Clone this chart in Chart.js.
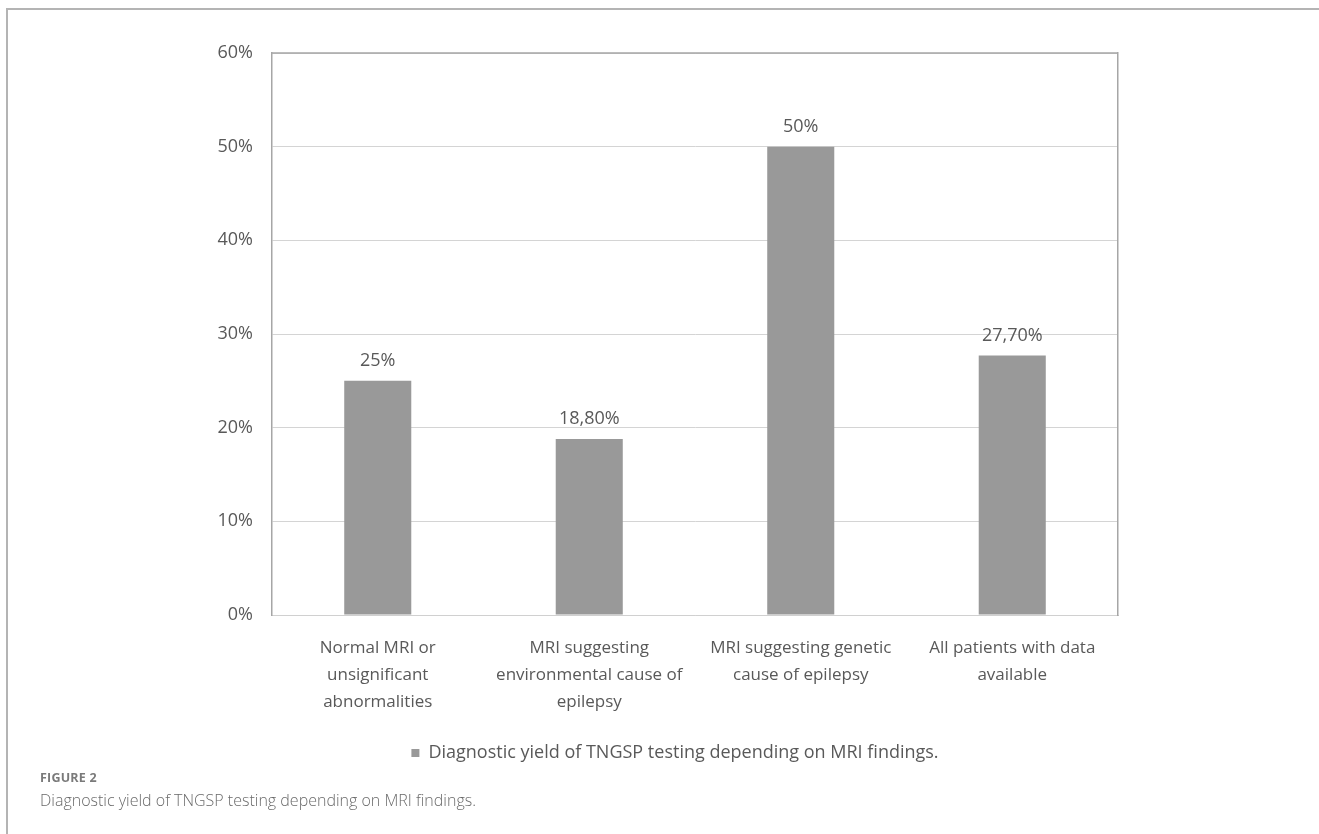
<!DOCTYPE html>
<html>
<head>
<meta charset="utf-8">
<script src="https://cdn.jsdelivr.net/npm/chart.js@4.4.1/dist/chart.umd.min.js"></script>
<style>
  html, body { margin: 0; padding: 0; background: #fff; }
  body { width: 1319px; height: 834px; position: relative; overflow: hidden; font-family: "Open Sans", sans-serif; }
  #frame { position: absolute; left: 6px; top: 8px; width: 1320px; height: 840px; border-left: 2px solid #b4b4b4; border-top: 2px solid #b4b4b4; box-sizing: border-box; }
  #wrap { position: absolute; left: 0; top: 0; width: 1319px; height: 776px; }
  #fig { position: absolute; left: 40px; top: 769px; font-size: 12.5px; font-weight: 700; color: #7a7a7a; letter-spacing: 0.2px; z-index: 2; }
  #cap { position: absolute; left: 40px; top: 789px; font-size: 16px; font-weight: 300; color: #6a6a6a; z-index: 2; }
</style>
</head>
<body>
<div id="frame"></div>
<div id="wrap"><canvas id="c" width="1319" height="776"></canvas></div>
<div id="fig">FIGURE 2</div>
<div id="cap">Diagnostic yield of TNGSP testing depending on MRI findings.</div>
<script>
// MRI finding groups (multi-line axis labels)
const categories = [
  ["Normal MRI or", "unsignificant", "abnormalities"],
  ["MRI suggesting", "environmental cause of", "epilepsy"],
  ["MRI suggesting genetic", "cause of epilepsy"],
  ["All patients with data", "available"]
];
// Diagnostic yield in percent
const yieldValues = [25, 18.8, 50, 27.7];
const seriesName = "Diagnostic yield of TNGSP testing depending on MRI findings.";
const yTicks = [0, 10, 20, 30, 40, 50, 60];

const fontFamily = '"Open Sans", sans-serif';
const textColor = '#595959';

function fmtPct(v) {
  return Number.isInteger(v) ? v + '%' : v.toFixed(2).replace('.', ',') + '%';
}

// Value labels above each bar
const valueLabels = {
  id: 'valueLabels',
  afterDatasetsDraw(chart) {
    const ctx = chart.ctx;
    const meta = chart.getDatasetMeta(0);
    ctx.save();
    ctx.font = '18px ' + fontFamily;
    ctx.fillStyle = textColor;
    ctx.textAlign = 'center';
    ctx.textBaseline = 'middle';
    meta.data.forEach((bar, i) => {
      ctx.fillText(fmtPct(chart.data.datasets[0].data[i]), bar.x, bar.y - 20);
    });
    ctx.restore();
  }
};

// Top edge of the plot frame
const plotTop = {
  id: 'plotTop',
  afterDraw(chart) {
    const a = chart.chartArea;
    const ctx = chart.ctx;
    ctx.save();
    ctx.strokeStyle = '#a6a6a6';
    ctx.lineWidth = 1.5;
    ctx.beginPath();
    ctx.moveTo(a.left, a.top);
    ctx.lineTo(a.right, a.top);
    ctx.stroke();
    ctx.restore();
  }
};

new Chart(document.getElementById('c'), {
  type: 'bar',
  data: {
    labels: categories,
    datasets: [{
      label: seriesName,
      data: yieldValues,
      backgroundColor: '#999999',
      borderWidth: 0,
      categoryPercentage: 1,
      barPercentage: 0.317
    }]
  },
  options: {
    responsive: false,
    animation: false,
    devicePixelRatio: 1,
    layout: { padding: { left: 190, right: 159, top: 53, bottom: 4 } },
    scales: {
      x: {
        grid: { display: false },
        border: { color: '#d0d0d0', width: 1 },
        ticks: {
          color: textColor,
          font: { family: fontFamily, size: 17, lineHeight: '27px' },
          padding: 12,
          maxRotation: 0,
          autoSkip: false
        }
      },
      y: {
        min: 0,
        max: 60,
        afterFit(scale) { scale.width = 82; },
        afterBuildTicks(scale) { scale.ticks = yTicks.map(v => ({ value: v })); },
        grid: { color: '#d4d4d4', lineWidth: 1, drawTicks: false },
        border: { color: '#a6a6a6', width: 1.5 },
        ticks: {
          color: textColor,
          font: { family: fontFamily, size: 18 },
          padding: 19,
          callback: v => v + '%'
        }
      },
      yRight: {
        position: 'right',
        min: 0,
        max: 60,
        afterFit(scale) { scale.width = 42; },
        grid: { display: false, drawTicks: false },
        border: { color: '#a6a6a6', width: 1.5 },
        ticks: { display: false }
      }
    },
    plugins: {
      legend: {
        position: 'bottom',
        labels: {
          color: textColor,
          font: { family: fontFamily, size: 18 },
          boxWidth: 8,
          boxHeight: 8,
          padding: 16
        }
      },
      tooltip: { enabled: false }
    }
  },
  plugins: [valueLabels, plotTop]
});
</script>
</body>
</html>
